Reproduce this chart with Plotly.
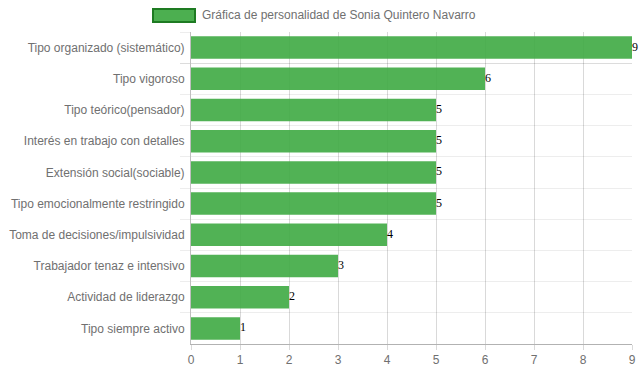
import plotly.graph_objects as go

categories = [
    "Tipo organizado (sistemático)",
    "Tipo vigoroso",
    "Tipo teórico(pensador)",
    "Interés en trabajo con detalles",
    "Extensión social(sociable)",
    "Tipo emocionalmente restringido",
    "Toma de decisiones/impulsividad",
    "Trabajador tenaz e intensivo",
    "Actividad de liderazgo",
    "Tipo siempre activo",
]
values = [9, 6, 5, 5, 5, 5, 4, 3, 2, 1]
x_ticks = [0, 1, 2, 3, 4, 5, 6, 7, 8, 9]
series_name = "Gráfica de personalidad de Sonia Quintero Navarro"

fig = go.Figure()
fig.add_trace(go.Bar(
    y=categories,
    x=values,
    orientation="h",
    marker=dict(color="rgba(62,170,66,0.9)", line=dict(width=0)),
    width=0.72,
    showlegend=False,
    name=series_name,
    hoverinfo="x+y",
))
# value labels at the end of each bar
fig.add_trace(go.Scatter(
    y=categories,
    x=values,
    mode="text",
    text=[str(v) for v in values],
    textposition="middle right",
    textfont=dict(family="Liberation Serif", size=12, color="#000"),
    cliponaxis=False,
    showlegend=False,
    hoverinfo="skip",
))

fig.update_layout(
    width=639, height=372,
    margin=dict(l=191, r=7, t=32, b=28, autoexpand=False),
    paper_bgcolor="white", plot_bgcolor="white",
    font=dict(family="Liberation Sans, Arial", size=12, color="#666"),
    hovermode=False,
)
fig.update_xaxes(
    range=[0, 9], tickvals=x_ticks, ticktext=[str(t) for t in x_ticks],
    automargin=False,
    showgrid=True, gridcolor="rgba(0,0,0,0.15)", gridwidth=1,
    zeroline=False, showline=True, linecolor="rgba(0,0,0,0.3)", linewidth=1,
    ticks="outside", ticklen=5, tickcolor="rgba(0,0,0,0.15)",
    tickfont=dict(size=12, color="#707070"),
)
fig.update_yaxes(
    autorange="reversed", tickson="boundaries", automargin=False,
    showgrid=True, gridcolor="rgba(0,0,0,0.07)", gridwidth=1,
    showline=True, linecolor="rgba(0,0,0,0.25)", linewidth=1,
    ticks="outside", ticklen=10, tickcolor="rgba(0,0,0,0.07)",
    ticklabelstandoff=3,
    tickfont=dict(size=12, color="#707070"),
)

# legend drawn as a wide box + label (Chart.js style)
fig.add_shape(type="rect", xref="paper", yref="paper",
              x0=(153 - 191) / 441, x1=(195 - 191) / 441,
              y0=1 + (32 - 22) / 312, y1=1 + (32 - 9) / 312,
              fillcolor="#4CAF50", line=dict(color="#1E7B22", width=2))
fig.add_annotation(xref="paper", yref="paper",
                   x=(200 - 191) / 441, y=1 + (32 - 15.5) / 312,
                   xanchor="left", yanchor="middle", showarrow=False,
                   text=series_name, font=dict(size=12, color="#707070"))

fig.write_html("out.html", config={"displayModeBar": False},
               post_script="document.body.style.margin='0';document.body.style.overflow='hidden';")
